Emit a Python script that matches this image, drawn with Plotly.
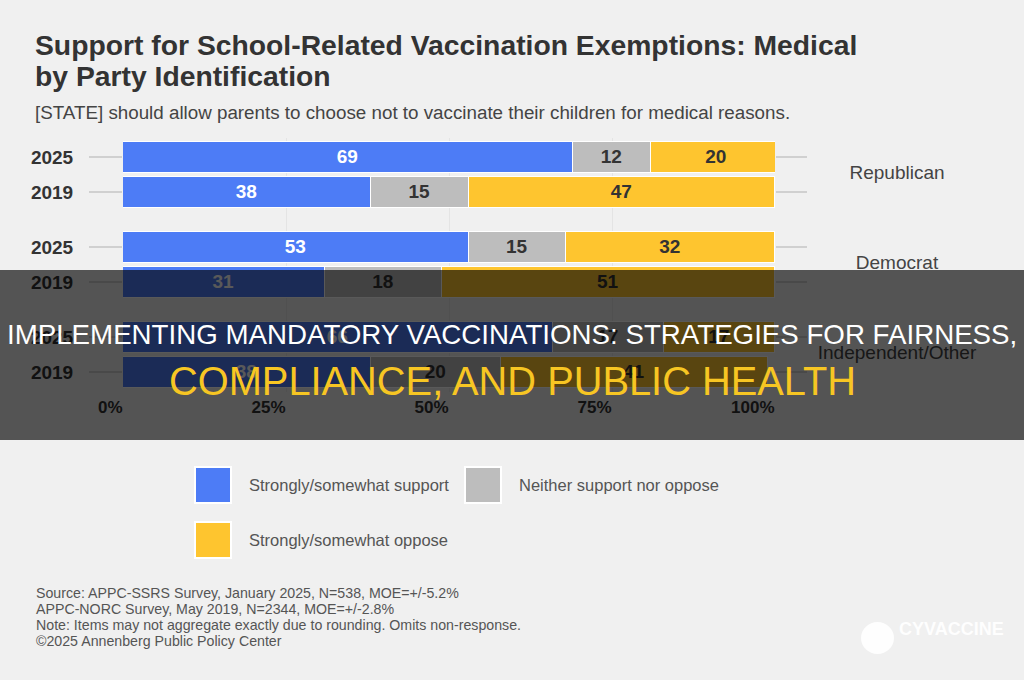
import plotly.graph_objects as go

# ---------------- data ----------------
parties = ["Republican", "Democrat", "Independent/Other"]
years = ["2025", "2019"]
support = [69, 38, 53, 31, 66, 38]   # Strongly/somewhat support
neither = [12, 15, 15, 18, 17, 20]   # Neither support nor oppose
oppose = [20, 47, 32, 51, 17, 41]    # Strongly/somewhat oppose
x_ticks = [0, 25, 50, 75, 100]
x_tick_labels = ["0%", "25%", "50%", "75%", "100%"]
series_names = ["Strongly/somewhat support", "Neither support nor oppose", "Strongly/somewhat oppose"]

title_1 = "Support for School-Related Vaccination Exemptions: Medical"
title_2 = "by Party Identification"
subtitle = "[STATE] should allow parents to choose not to vaccinate their children for medical reasons."
footer = [
    "Source: APPC-SSRS Survey, January 2025, N=538, MOE=+/-5.2%",
    "APPC-NORC Survey, May 2019, N=2344, MOE=+/-2.8%",
    "Note: Items may not aggregate exactly due to rounding. Omits non-response.",
    "\u00a92025 Annenberg Public Policy Center",
]
band_1 = "IMPLEMENTING MANDATORY VACCINATIONS: STRATEGIES FOR FAIRNESS,"
band_2 = "COMPLIANCE, AND PUBLIC HEALTH"

# ---------------- style ----------------
W, H = 1024, 680
BG = "#f0f0f0"
BLUE, GRAY, YELLOW = "#4d7cf6", "#bdbdbd", "#fec52f"
FONT = "Liberation Sans, Arial, sans-serif"
GROUP_STEP = 90 / 35  # spacing between party groups, in row units


def X(px):
    return px / W


def Y(py):
    return 1 - py / H


row_pos = [g * GROUP_STEP + k for g in range(len(parties)) for k in range(len(years))]
row_labels = [y for _ in parties for y in years]
group_pos = [g * GROUP_STEP + 0.5 for g in range(len(parties))]
y_range = [6.714, -0.543]

fig = go.Figure()
for vals, name, col, tcol in [
    (support, series_names[0], BLUE, "white"),
    (neither, series_names[1], GRAY, "#333333"),
    (oppose, series_names[2], YELLOW, "#333333"),
]:
    fig.add_trace(go.Bar(
        x=vals, y=row_pos, orientation="h", name=name, width=0.886,
        marker=dict(color=col, line=dict(color="white", width=1.5)),
        texttemplate="%{x}", textposition="inside", insidetextanchor="middle",
        textangle=0, constraintext="none",
        textfont=dict(family=FONT, size=19, color=tcol, weight="bold"),
        showlegend=False, hoverinfo="skip",
    ))

# invisible trace so the right-hand tick axis is drawn
fig.add_trace(go.Scatter(x=[None], y=[None], yaxis="y2", showlegend=False, hoverinfo="skip"))

# party labels (on a side axis so they sit under the overlay band)
fig.add_trace(go.Scatter(
    x=[0.5] * len(parties), y=group_pos, xaxis="x2", yaxis="y",
    mode="text", text=parties, textposition="middle center", cliponaxis=False,
    textfont=dict(family=FONT, size=19, color="#444444"),
    showlegend=False, hoverinfo="skip",
))

fig.update_layout(
    width=W, height=H, margin=dict(l=0, r=0, t=0, b=0),
    paper_bgcolor=BG, plot_bgcolor=BG, barmode="stack", bargap=0,
    xaxis=dict(
        domain=[X(123), X(775)], range=[0, 100], tickvals=x_ticks, ticktext=x_tick_labels,
        ticks="outside", ticklen=11, tickcolor="rgba(0,0,0,0)", ticklabelposition="outside left",
        tickfont=dict(family=FONT, size=17, color="#333333", weight="bold"),
        showgrid=True, gridcolor="#e4e4e4", gridwidth=1, zeroline=False, showline=False,
        automargin=False, fixedrange=True,
    ),
    xaxis2=dict(domain=[X(790), X(1004)], range=[0, 1], anchor="y", visible=False, fixedrange=True),
    yaxis=dict(
        domain=[Y(392), Y(138)], range=y_range, tickvals=row_pos, ticktext=row_labels,
        ticks="outside", ticklen=33, tickwidth=2, tickcolor="#d0d0d0", ticklabelstandoff=12,
        tickfont=dict(family=FONT, size=19, color="#333333", weight="bold"),
        showgrid=False, zeroline=False, showline=False, automargin=False, fixedrange=True,
    ),
    yaxis2=dict(
        overlaying="y", side="right", anchor="x", range=y_range, tickvals=row_pos,
        showticklabels=False, ticks="outside", ticklen=31, tickwidth=2, tickcolor="#d0d0d0",
        showgrid=False, zeroline=False, showline=False, automargin=False, fixedrange=True,
    ),
    font=dict(family=FONT),
)

ann = []
# titles
ann.append(dict(text=title_1, x=X(33), y=Y(45), xanchor="left", yanchor="middle",
                font=dict(family=FONT, size=28.3, color="#333333", weight="bold")))
ann.append(dict(text=title_2, x=X(33), y=Y(76), xanchor="left", yanchor="middle",
                font=dict(family=FONT, size=28.3, color="#333333", weight="bold")))
ann.append(dict(text=subtitle, x=X(33), y=Y(113), xanchor="left", yanchor="middle",
                font=dict(family=FONT, size=18.8, color="#444444")))

# legend
shapes = []
legend_items = [(series_names[0], BLUE, 195, 485), (series_names[1], GRAY, 465, 485),
                (series_names[2], YELLOW, 195, 540)]
for name, col, lx, ly in legend_items:
    shapes.append(dict(type="rect", xref="paper", yref="paper", x0=X(lx), x1=X(lx + 36),
                       y0=Y(ly - 18), y1=Y(ly + 18), fillcolor=col,
                       line=dict(color="white", width=2), layer="below"))
    ann.append(dict(text=name, x=X(lx + 52), y=Y(ly), xanchor="left", yanchor="middle",
                    font=dict(family=FONT, size=16.5, color="#555555")))

# footer
for i, line in enumerate(footer):
    ann.append(dict(text=line, x=X(34), y=Y(593 + 16 * i), xanchor="left", yanchor="middle",
                    font=dict(family=FONT, size=14.2, color="#555555")))

# watermark
shapes.append(dict(type="circle", xref="paper", yref="paper", x0=X(861), x1=X(894),
                   y0=Y(654), y1=Y(622), fillcolor="rgba(255,255,255,0.9)", line=dict(width=0),
                   layer="below"))
ann.append(dict(text="CYVACCINE", x=X(897), y=Y(629), xanchor="left", yanchor="middle",
                font=dict(family=FONT, size=18, color="rgba(255,255,255,0.95)", weight="bold")))

# overlay band
shapes.append(dict(type="rect", xref="paper", yref="paper", x0=0, x1=1, y0=Y(440), y1=Y(270),
                   fillcolor="rgba(0,0,0,0.65)", line=dict(width=0), layer="above"))
ann.append(dict(text=band_1, x=0.5, y=Y(334), xanchor="center", yanchor="middle",
                font=dict(family=FONT, size=27.7, color="white")))
ann.append(dict(text=band_2, x=0.5, y=Y(381), xanchor="center", yanchor="middle",
                font=dict(family=FONT, size=39.8, color="#f7c623")))

for a in ann:
    a.update(xref="paper", yref="paper", showarrow=False)
fig.update_layout(annotations=ann, shapes=shapes)

fig.write_html("out.html", config={"displayModeBar": False})
